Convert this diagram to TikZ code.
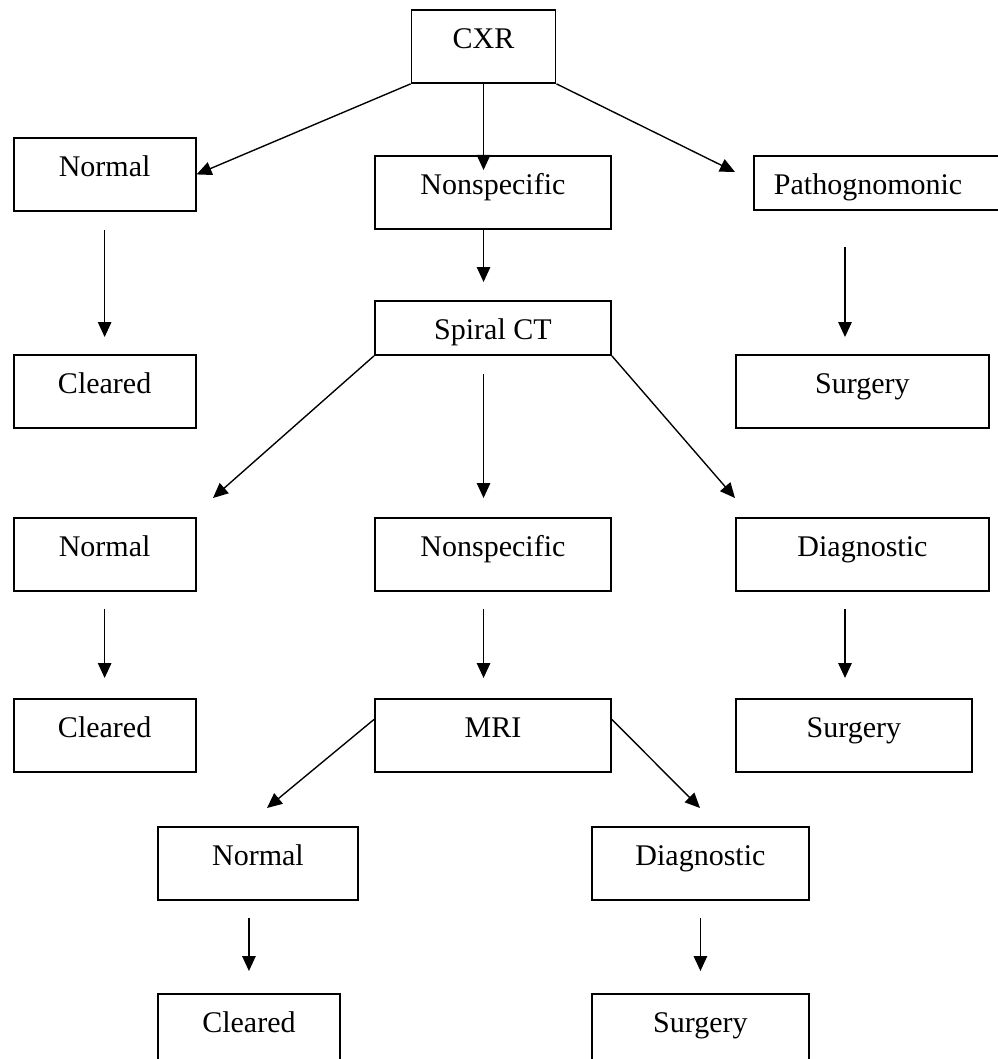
\documentclass[tikz,border=0pt]{standalone}
\usepackage{fontspec}
\setmainfont{Liberation Serif}
\usetikzlibrary{arrows.meta}
\tikzset{
  bx/.style={draw=black,line width=.75pt,inner sep=0pt,anchor=north west,
    text height=15.4pt,text depth=13.8pt,font=\fontsize{12}{14}\selectfont},
  bxs/.style={bx,text depth=6.2pt},
  wn/.style={minimum width=72.8pt},
  wm/.style={minimum width=94.4pt},
  ww/.style={minimum width=101.2pt},
  arr/.style={-{Triangle[length=6pt,width=5.4pt]},line width=.55pt,draw=black},
}

\begin{document}
\begin{tikzpicture}[x=0.4pt,y=-0.4pt]
\useasboundingbox (0,0) rectangle (998,1059);
\clip (0,0) rectangle (998,1059);
% boxes, placed by their top left corner (pixel grid)
\node[bx,minimum width=57.6pt] (cxr) at (410.6,9) {CXR};
\node[bx,wn] (nrm1) at (12.7,137) {Normal};
\node[bx,wm] (nsp1) at (374,155) {Nonspecific};
\node[bxs,align=left,text width=96pt,inner xsep=8pt] (pat) at (753,155) {Pathognomonic};
\node[bxs,wm] (spc) at (374,300) {Spiral CT};
\node[bx,wn] (clr1) at (12.7,354) {Cleared};
\node[bx,ww] (srg1) at (735,354) {Surgery};
\node[bx,wn] (nrm2) at (12.7,517) {Normal};
\node[bx,wm] (nsp2) at (374,517) {Nonspecific};
\node[bx,ww] (dia1) at (735,517) {Diagnostic};
\node[bx,wn] (clr2) at (12.7,698) {Cleared};
\node[bx,wm] (mri) at (374,698) {MRI};
\node[bx,wm] (srg2) at (735,698) {Surgery};
\node[bx,minimum width=80pt] (nrm3) at (157,826) {Normal};
\node[bx,minimum width=86.8pt] (dia2) at (591,826) {Diagnostic};
\node[bx,wn] (clr3) at (157,993) {Cleared};
\node[bx,minimum width=86.8pt] (srg3) at (591,993) {Surgery};
% right column guide and free arrow ends
\coordinate (colr) at (845,0);
\coordinate (tpat) at (735,172);
\coordinate (tnrm2) at (213,498);
\coordinate (tdia1) at (735,498);
\coordinate (tnrm3) at (267,808);
\coordinate (tdia2) at (700,808);
% arrows
\draw[arr] (cxr.south west) -- (nrm1.east);
\draw[arr,shorten >=-6pt] (cxr.south) -- (cxr.south |- nsp1.north);
\draw[arr] (cxr.south east) -- (tpat);
\draw[arr,shorten <=7.2pt,shorten >=6.8pt] (nrm1.south) -- (clr1.north);
\draw[arr,shorten >=7.2pt] (cxr.south |- nsp1.south) -- (cxr.south |- spc.north);
\draw[arr,shorten <=14.4pt,shorten >=6.8pt] (colr |- pat.south) -- (colr |- srg1.north);
\draw[arr] (spc.south west) -- (tnrm2);
\draw[arr,shorten <=7.2pt,shorten >=7.6pt] (cxr.south |- spc.south) -- (cxr.south |- nsp2.north);
\draw[arr] (spc.south east) -- (tdia1);
\draw[arr,shorten <=6.8pt,shorten >=8pt] (nrm2.south) -- (clr2.north);
\draw[arr,shorten <=6.8pt,shorten >=8pt] (cxr.south |- nsp2.south) -- (cxr.south |- mri.north);
\draw[arr,shorten <=6.8pt,shorten >=8pt] (colr |- dia1.south) -- (colr |- srg2.north);
\draw[arr] ([yshift=6.4pt]mri.west) -- (tnrm3);
\draw[arr] ([yshift=6.4pt]mri.east) -- (tdia2);
\draw[arr,shorten <=6.8pt,shorten >=8.8pt] (clr3.north |- nrm3.south) -- (clr3.north);
\draw[arr,shorten <=6.8pt,shorten >=8.8pt] (dia2.south) -- (srg3.north);
\end{tikzpicture}
\end{document}
